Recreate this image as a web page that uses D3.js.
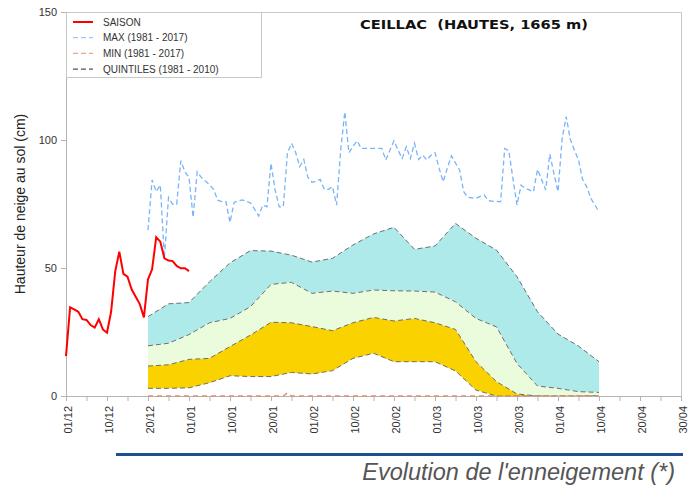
<!DOCTYPE html>
<html>
<head>
<meta charset="utf-8">
<script src="https://cdn.jsdelivr.net/npm/d3@7"></script>
<style>
  body { margin: 0; background: #fff; }
  svg { display: block; font-family: "Liberation Sans", Arial, sans-serif; }
</style>
</head>
<body>
<svg id="svg" width="694" height="486"></svg>
<script>
// x axis labels, one every 10 days (index days from 01/12)
const tickLabels = ["01/12","10/12","20/12","01/01","10/01","20/01","01/02","10/02",
  "20/02","01/03","10/03","20/03","01/04","10/04","20/04","30/04"];

// current season, daily from 01/12
const saison = [15.6, 34.6, 33.8, 32.9, 30.0, 29.7, 27.7, 26.7, 30.0, 26.0, 24.7,
  32.9, 48.6, 56.4, 47.7, 46.6, 41.7, 38.8, 35.9, 30.7, 45.6, 49.5, 62.0, 60.3,
  53.8, 52.9, 52.7, 50.8, 49.9, 49.9, 48.8];

// max 1981-2017, daily from day 20 to day 130
const maxStart = 20;
const maxVals = [64.8, 84.4, 79.8, 82.4, 54, 77.6, 74.9, 74.9, 91.9, 87.6, 85.4,
  69.8, 87.6, 85.4, 84, 82.6, 80.7, 76.5, 75.9, 75.9, 67.8,
  75.6, 76.2, 76.6, 76, 75.4, 73, 70.3, 74.6, 73.9, 90.9,
  80.5, 73.9, 73.9, 94.8, 98.7, 95.2, 89.6, 92.4, 85.4, 83.5,
  83.8, 84.6, 80.7, 80.7, 81.8, 74.6, 96.1, 111, 95, 97.5,
  99.7, 96.7, 96.7, 96.7, 96.7, 96.7, 96.7, 92.2, 96, 99.7,
  96, 92.8, 97.4, 92.8, 98.7, 92.4, 94.1, 92.2, 94, 95,
  89, 83.7, 89, 93.8, 91, 88.3, 79.8, 77.6, 77.4, 77.2,
  78, 78.5, 76.3, 76.1, 76, 75.9, 96.7, 95.8, 85, 74.6,
  82.4, 81.1, 80.5, 79.8, 88.5, 84.5, 80.5, 94.5, 87, 79.8,
  100.3, 109.1, 100.3, 96, 92.2, 84.6, 81.8, 77.2, 74.6, 72];

// min 1981-2017
const minDays = [20, 53, 54, 55, 130];
const minVals = [0, 0, 1.2, 0, 0];

// quintiles 1981-2010, every 5 days
const quintDays = d3.range(20, 131, 5);
const q20 = [3, 3, 3.2, 5.2, 7.9, 7.6, 7.6, 9.2, 8.6, 9.9, 14.7, 16.7, 13.4, 13.4,
  13.4, 9.8, 2.3, 0, 0, 0, 0, 0, 0];
const q40 = [11.7, 12.2, 14.3, 14.7, 19.3, 23.8, 28.8, 28.6, 27.1, 25.5, 28.6, 30.7,
  29.3, 30.3, 28.6, 26, 13.4, 5.6, 0.8, 0, 0, 0, 0];
const q60 = [19.6, 20.6, 24, 28.6, 30.3, 34.9, 43.6, 44.4, 40.1, 41, 40.1, 41.4,
  41.1, 41, 40.6, 36.8, 30.3, 27, 12.7, 3.9, 3, 1.7, 1.4];
const q80 = [31, 36, 36.5, 44.6, 52, 56.8, 56.6, 55, 52.3, 53.8, 59, 63.3, 65.9,
  57.3, 58.6, 67.4, 61.6, 57, 46.6, 32.9, 24.2, 19.5, 13.4];

const svg = d3.select("#svg");
const mLeft = 66, mRight = 681, mTop = 12, mBottom = 396;

const x = d3.scaleLinear().domain([0, 150]).range([mLeft, mRight]);
const y = d3.scaleLinear().domain([0, 150]).range([mBottom, mTop]);

// frame
svg.append("path")
  .attr("d", `M${mLeft},${mTop + 0.5}H${mRight + 0.5}V${mBottom}`)
  .attr("fill", "none").attr("stroke", "#c8c8c8");

// quintile bands
const quint = quintDays.map((d, i) => ({ d, q20: q20[i], q40: q40[i], q60: q60[i], q80: q80[i] }));
const bands = [["q60", "q80", "#aeeaea"], ["q40", "q60", "#ebfcdc"], ["q20", "q40", "#f9d200"]];
bands.forEach(([lo, hi, col]) => {
  svg.append("path").datum(quint)
    .attr("fill", col)
    .attr("d", d3.area().x(d => x(d.d)).y0(d => y(d[lo])).y1(d => y(d[hi])));
});
["q20", "q40", "q60", "q80"].forEach(k => {
  svg.append("path").datum(quint)
    .attr("fill", "none").attr("stroke", "#6e6e6e").attr("stroke-width", 1)
    .attr("stroke-dasharray", "5,3")
    .attr("d", d3.line().x(d => x(d.d)).y(d => y(d[k])));
});

// axes
const yAxis = svg.append("g").attr("transform", `translate(${mLeft},0)`)
  .call(d3.axisLeft(y).tickValues([0, 50, 100, 150]).tickSize(5).tickPadding(4));
const xAxis = svg.append("g").attr("transform", `translate(0,${mBottom})`)
  .call(d3.axisBottom(x).tickValues(d3.range(0, 151, 5)).tickSize(5)
    .tickFormat((d, i) => i % 2 === 0 ? tickLabels[i / 2] : ""));
[yAxis, xAxis].forEach(a => {
  a.selectAll(".domain, line").attr("stroke", "#b4b4b4");
  a.selectAll("text").attr("fill", "#333").style("font-size", "11px");
});
xAxis.selectAll("text")
  .attr("text-anchor", "end")
  .attr("transform", "translate(5.5,10) rotate(-90)")
  .attr("x", 0).attr("y", 0).attr("dy", 0);

// min
svg.append("path").datum(minDays.map((d, i) => [d, minVals[i]]))
  .attr("fill", "none").attr("stroke", "#df9070").attr("stroke-width", 1.5)
  .attr("stroke-dasharray", "5,4")
  .attr("d", d3.line().x(d => x(d[0])).y(d => y(d[1])));

// max
svg.append("path").datum(maxVals)
  .attr("fill", "none").attr("stroke", "#7ab4f8").attr("stroke-width", 1.3)
  .attr("stroke-dasharray", "5,3")
  .attr("d", d3.line().x((d, i) => x(maxStart + i)).y(d => y(d)));

// season
svg.append("path").datum(saison)
  .attr("fill", "none").attr("stroke", "#ff0000").attr("stroke-width", 2)
  .attr("d", d3.line().x((d, i) => x(i)).y(d => y(d)));

// y title
svg.append("text")
  .attr("transform", `translate(25,${(mTop + mBottom) / 2}) rotate(-90)`)
  .attr("text-anchor", "middle")
  .attr("fill", "#222").style("font-size", "14px")
  .text("Hauteur de neige au sol (cm)");

// title
svg.append("text")
  .attr("x", 474).attr("y", 29)
  .attr("text-anchor", "middle")
  .attr("textLength", 228).attr("lengthAdjust", "spacingAndGlyphs")
  .style("white-space", "pre")
  .style("font-family", "'DejaVu Sans', sans-serif")
  .style("font-weight", "bold").style("font-size", "13px")
  .attr("fill", "#111")
  .text("CEILLAC  (HAUTES, 1665 m)");

// legend
const legend = svg.append("g");
legend.append("rect")
  .attr("x", mLeft + 0.5).attr("y", mTop + 0.5).attr("width", 195).attr("height", 65)
  .attr("fill", "#fff").attr("stroke", "#c8c8c8");
const items = [
  { label: "SAISON", color: "#ff0000", dash: null, w: 2 },
  { label: "MAX (1981 - 2017)", color: "#9cc8f5", dash: "5,3", w: 1.3 },
  { label: "MIN (1981 - 2017)", color: "#e7a78a", dash: "5,3", w: 1.3 },
  { label: "QUINTILES (1981 - 2010)", color: "#555", dash: "5,3", w: 1.3 }
];
items.forEach((it, i) => {
  const ly = 22 + i * 15.7;
  legend.append("line")
    .attr("x1", 73).attr("x2", 93).attr("y1", ly).attr("y2", ly)
    .attr("stroke", it.color).attr("stroke-width", it.w)
    .attr("stroke-dasharray", it.dash);
  legend.append("text")
    .attr("x", 103).attr("y", ly + 3.5)
    .attr("fill", "#333").style("font-size", "10px")
    .text(it.label);
});

// footer
svg.append("line")
  .attr("x1", 116).attr("x2", 683).attr("y1", 454.5).attr("y2", 454.5)
  .attr("stroke", "#1f4f8f").attr("stroke-width", 3);
svg.append("text")
  .attr("x", 675).attr("y", 480)
  .attr("text-anchor", "end")
  .attr("fill", "#555")
  .style("font-style", "italic").style("font-size", "23.5px")
  .text("Evolution de l'enneigement (*)");
</script>
</body>
</html>
